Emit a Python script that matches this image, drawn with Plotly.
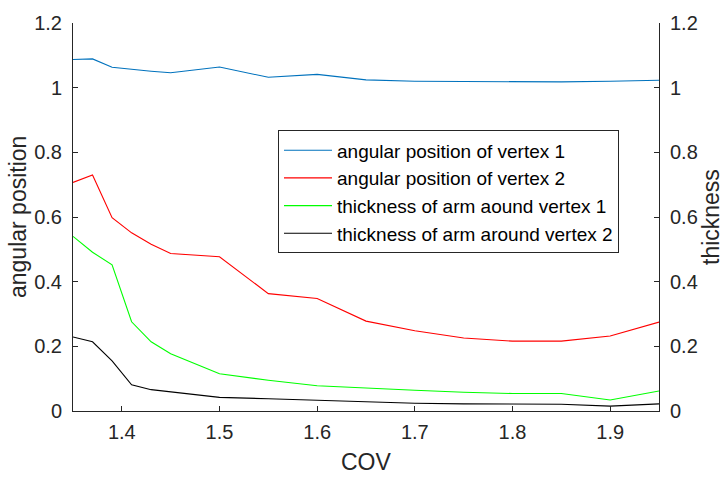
import plotly.graph_objects as go

# COV sample points
cov = [1.35, 1.37, 1.39, 1.41, 1.43, 1.45, 1.50, 1.55, 1.60, 1.65, 1.70, 1.75, 1.80, 1.85, 1.90, 1.95]

# angular positions (left axis)
ang_v1 = [1.087, 1.089, 1.063, 1.056, 1.051, 1.046, 1.064, 1.032, 1.041, 1.024, 1.020, 1.019, 1.018, 1.018, 1.020, 1.023]
ang_v2 = [0.707, 0.730, 0.598, 0.551, 0.516, 0.487, 0.477, 0.363, 0.348, 0.278, 0.248, 0.226, 0.216, 0.216, 0.232, 0.275]

# arm thickness (right axis)
thk_v1 = [0.540, 0.491, 0.452, 0.276, 0.214, 0.177, 0.115, 0.095, 0.078, 0.070, 0.064, 0.058, 0.054, 0.054, 0.034, 0.062]
thk_v2 = [0.229, 0.214, 0.155, 0.081, 0.066, 0.059, 0.042, 0.038, 0.033, 0.029, 0.024, 0.022, 0.021, 0.021, 0.015, 0.022]

x_ticks = [1.4, 1.5, 1.6, 1.7, 1.8, 1.9]
x_labels = ["1.4", "1.5", "1.6", "1.7", "1.8", "1.9"]
y_ticks = [0, 0.2, 0.4, 0.6, 0.8, 1.0, 1.2]
y_labels = ["0", "0.2", "0.4", "0.6", "0.8", "1", "1.2"]

FONT = "Liberation Sans, Arial, Helvetica, sans-serif"
INK = "#262626"
W, H = 725, 477
L, R, T, B = 73, 66, 17, 66
PW, PH = W - L - R, H - T - B

fig = go.Figure()
fig.add_trace(go.Scatter(x=cov, y=ang_v1, mode="lines", name="angular position of vertex 1",
                         line=dict(color="#0072BD", width=1.1)))
fig.add_trace(go.Scatter(x=cov, y=ang_v2, mode="lines", name="angular position of vertex 2",
                         line=dict(color="#FF0000", width=1.1)))
fig.add_trace(go.Scatter(x=cov, y=thk_v1, mode="lines", name="thickness of arm aound vertex 1",
                         line=dict(color="#00FF00", width=1.1), yaxis="y2"))
fig.add_trace(go.Scatter(x=cov, y=thk_v2, mode="lines", name="thickness of arm around vertex 2",
                         line=dict(color="#000000", width=1.1), yaxis="y2"))

axis_common = dict(showgrid=False, zeroline=False, showline=True, linecolor=INK, linewidth=1,
                   ticks="inside", ticklen=5, tickwidth=1, tickcolor=INK,
                   tickfont=dict(family=FONT, size=20, color=INK))

title_font = dict(family=FONT, size=23, color=INK)

fig.update_layout(
    width=W, height=H,
    margin=dict(l=L, r=R, t=T, b=B, pad=0),
    paper_bgcolor="white", plot_bgcolor="white",
    font=dict(family=FONT, color=INK),
    xaxis=dict(range=[1.35, 1.95], tickvals=x_ticks, ticktext=x_labels,
               ticklabelstandoff=3, **axis_common),
    yaxis=dict(range=[0, 1.2], tickvals=y_ticks, ticktext=y_labels,
               ticklabelstandoff=6, **axis_common),
    yaxis2=dict(range=[0, 1.2], tickvals=y_ticks, ticktext=y_labels, overlaying="y", side="right",
                ticklabelstandoff=6, **axis_common),
    showlegend=True,
    legend=dict(x=(278 - L) / PW, y=(H - B - 126) / PH,
                xanchor="left", yanchor="top",
                bgcolor="white", bordercolor=INK, borderwidth=1,
                font=dict(family=FONT, size=19, color="#000000"),
                tracegroupgap=0, itemwidth=48),
    annotations=[
        dict(text="angular position", xref="paper", yref="paper",
             x=(18 - L) / PW, y=0.5, textangle=-90, showarrow=False,
             xanchor="center", yanchor="middle", font=title_font),
        dict(text="thickness", xref="paper", yref="paper",
             x=(711 - L) / PW, y=0.5, textangle=-90, showarrow=False,
             xanchor="center", yanchor="middle", font=title_font),
        dict(text="COV", xref="paper", yref="paper",
             x=0.5, y=(H - B - 463) / PH, showarrow=False,
             xanchor="center", yanchor="middle", font=title_font),
    ],
)

fig.write_html("out.html")
